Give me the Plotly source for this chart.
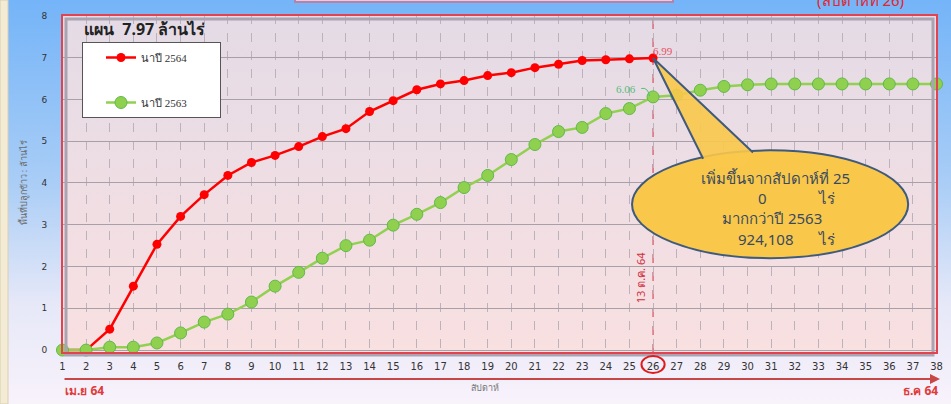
import base64
import plotly.graph_objs as go

# weekly cumulative planted area (million rai)
weeks = list(range(1, 39))
weeks_2564 = list(range(1, 27))
area_2564 = [0, 0, 0.50, 1.53, 2.53, 3.20, 3.72, 4.18, 4.49, 4.66, 4.87, 5.11, 5.30,
             5.71, 5.97, 6.23, 6.37, 6.45, 6.57, 6.64, 6.76, 6.84, 6.93, 6.95, 6.97, 6.99]
area_2563 = [0, 0, 0.07, 0.07, 0.17, 0.41, 0.67, 0.86, 1.15, 1.53, 1.86, 2.20, 2.50,
             2.63, 2.99, 3.25, 3.53, 3.89, 4.18, 4.56, 4.92, 5.23, 5.33, 5.66, 5.78, 6.06,
             6.10, 6.22, 6.31, 6.35, 6.37, 6.37, 6.37, 6.37, 6.37, 6.37, 6.37, 6.37]
names = ['นาปี 2564', 'นาปี 2563']
current_week = 26

W, H = 951, 404
L, R, T, B = 62, 14, 15, 51
pw, ph = W - L - R, H - T - B

THAI = 'Tahoma, Noto Sans, DejaVu Sans, sans-serif'
PAD = '\u00a0' * 10


def gradient(stops):
    st = ''.join('<stop offset="%s" stop-color="%s"/>' % s for s in stops)
    svg = ('<svg xmlns="http://www.w3.org/2000/svg" width="10" height="100" preserveAspectRatio="none">'
           '<defs><linearGradient id="g" x1="0" y1="0" x2="0" y2="1">' + st +
           '</linearGradient></defs><rect width="10" height="100" fill="url(#g)"/></svg>')
    return 'data:image/svg+xml;base64,' + base64.b64encode(svg.encode()).decode()


fig = go.Figure()
fig.add_trace(go.Scatter(x=weeks_2564, y=area_2564, name=names[0] + PAD, mode='lines+markers',
                         line=dict(color='#ff0000', width=2.5), legendgroup='a',
                         marker=dict(size=9, color='#ff0000'), cliponaxis=False))
fig.add_trace(go.Scatter(x=weeks, y=area_2563, name=names[1] + PAD, mode='lines+markers',
                         line=dict(color='#92d050', width=2.5), legendgroup='b',
                         marker=dict(size=12, color='#8fd14f', line=dict(color='#62b84a', width=1)),
                         cliponaxis=False))

# backgrounds
fig.add_layout_image(source=gradient([(0, '#74b4f8'), (0.45, '#a9cdf6'), (0.75, '#e6e8f8'), (1, '#f8f2fb')]),
                     xref='paper', yref='paper', x=-L / pw, y=1 + T / ph, sizex=W / pw, sizey=H / ph,
                     xanchor='left', yanchor='top', sizing='stretch', layer='below')
fig.add_layout_image(source=gradient([(0, '#e4dbe6'), (1, '#f9e0e1')]),
                     xref='paper', yref='paper', x=0, y=1, sizex=1, sizey=1,
                     xanchor='left', yanchor='top', sizing='stretch', layer='below')

shapes = [
    dict(type='rect', xref='paper', yref='paper', x0=-L / pw, x1=-L / pw + 8 / pw, y0=-B / ph, y1=1 + T / ph,
         fillcolor='#f3ebd3', line=dict(color='#d8cfb4', width=1), layer='below'),
    dict(type='rect', xref='paper', yref='paper', x0=233 / pw, x1=611 / pw, y0=1 + 13 / ph, y1=1 + 30 / ph,
         fillcolor='#ebcadf', line=dict(color='#b583a9', width=2), layer='below'),
    # inner shadow + red frame
    dict(type='rect', xref='paper', yref='paper', x0=4 / pw, x1=1 - 4 / pw, y0=-2 / ph, y1=1 - 4 / ph,
         line=dict(color='#aaa3b2', width=3)),
    dict(type='rect', xref='paper', yref='paper', x0=0, x1=1, y0=0, y1=1,
         line=dict(color='#e2434f', width=2)),
    dict(type='line', xref='x', yref='paper', x0=current_week, x1=current_week, y0=0, y1=1,
         line=dict(color='#cf3345', width=1, dash='dash'), layer='below'),
    # circle around current week tick label
    dict(type='circle', xref='x', yref='paper', x0=current_week - 0.49, x1=current_week + 0.49,
         y0=-0.009, y1=-0.059, line=dict(color='#e01b1b', width=2)),
    # leader for 6.06
    dict(type='path', xref='x', yref='y', path='M 25.5,6.26 Q 25.78,6.3 25.85,6.08',
         line=dict(color='#4fbf7a', width=1)),
    # callout
    dict(type='circle', xref='x', yref='y', x0=25.11, x1=36.8, y0=2.2, y1=4.78,
         fillcolor='#f9c84a', line=dict(color='#3f5a7c', width=2)),
    dict(type='path', xref='x', yref='y',
         path='M 28.12,4.58 L 26,6.99 L 30.23,4.73 L 29.9,4.40 L 28.45,4.35 Z',
         fillcolor='rgba(249,200,74,0.9)', line=dict(width=0)),
    dict(type='path', xref='x', yref='y', path='M 28.12,4.58 L 26,6.99 L 30.23,4.73',
         line=dict(color='#3f5a7c', width=2)),
]

ann = [
    dict(text='(สัปดาห์ที่ 26)', xref='paper', yref='paper', x=0.912, y=1 + 15 / ph, showarrow=False,
         font=dict(family=THAI, size=15, color='#e2262c'), xanchor='center', yanchor='middle'),
    dict(text='<b>แผน  7.97 ล้านไร่</b>', xref='paper', yref='paper', x=20 / pw, y=1 - 14 / ph,
         showarrow=False, xanchor='left', yanchor='middle', font=dict(family=THAI, size=16, color='#222222')),
    dict(text='พื้นที่ปลูกข้าว : ล้านไร่', xref='paper', yref='paper', x=-47 / pw, y=0.503, textangle=-90,
         showarrow=False, font=dict(family=THAI, size=9, color='#6a6a6a')),
    dict(text='', xref='paper', yref='paper', x=878 / pw, y=-26 / ph, ax=-877, ay=0, showarrow=True,
         arrowcolor='#c94646', arrowwidth=2, arrowhead=2, arrowsize=1),
    dict(text='<b>เม.ย 64</b>', xref='paper', yref='paper', x=1 / pw, y=-38 / ph, showarrow=False,
         xanchor='left', yanchor='middle', font=dict(family=THAI, size=12, color='#e03a3a')),
    dict(text='<b>ธ.ค 64</b>', xref='paper', yref='paper', x=878 / pw, y=-37 / ph, showarrow=False,
         xanchor='right', yanchor='middle', font=dict(family=THAI, size=12, color='#e03a3a')),
    dict(text='สัปดาห์', xref='paper', yref='paper', x=423 / pw, y=-43 / ph, showarrow=False,
         font=dict(family=THAI, size=9, color='#777777')),
    dict(text='13 ต.ค. 64', x=25.45, y=1.72, textangle=-90, showarrow=False,
         font=dict(family=THAI, size=11, color='#d03040')),
    dict(text='%.2f' % area_2564[-1], x=26.43, y=7.15, showarrow=False,
         font=dict(family='Liberation Serif', size=11, color='#e8505e')),
    dict(text='%.2f' % area_2563[current_week - 1], x=24.86, y=6.26, showarrow=False,
         font=dict(family='Liberation Serif', size=11, color='#4fbf7a')),
]
cfont = dict(family=THAI, size=15, color='#3a4a60')
for txt, x, y in [('เพิ่มขึ้นจากสัปดาห์ที่ 25', 31.17, 4.11), ('0', 30.65, 3.63), ('ไร่', 33.36, 3.63),
                  ('มากกว่าปี 2563', 31.04, 3.15), ('924,108', 30.78, 2.67), ('ไร่', 33.36, 2.67)]:
    ann.append(dict(text=txt, x=x, y=y, showarrow=False, font=cfont))

fig.update_layout(
    width=W, height=H,
    margin=dict(l=L, r=R, t=T, b=B),
    paper_bgcolor='rgba(0,0,0,0)',
    plot_bgcolor='rgba(0,0,0,0)',
    shapes=shapes,
    annotations=ann,
    showlegend=True,
    legend=dict(x=20 / pw, y=1 - 27 / ph, xanchor='left', yanchor='top', bgcolor='white',
                bordercolor='#555555', borderwidth=1, tracegroupgap=26, traceorder='grouped',
                itemwidth=30, indentation=18,
                font=dict(family='Liberation Serif', size=11, color='#333333')),
    xaxis=dict(range=[0.98, 38.02], tickmode='linear', tick0=1, dtick=1, showgrid=True, automargin=False,
               gridcolor='#bcb2bc', griddash='dash', gridwidth=1, zeroline=False, showline=False,
               ticks='outside', ticklen=4, tickcolor='rgba(0,0,0,0)',
               tickfont=dict(family='DejaVu Sans', size=10, color='#333333')),
    yaxis=dict(range=[-0.07, 8.02], tickmode='linear', tick0=0, dtick=1, showgrid=True, automargin=False,
               gridcolor='#a8a0a8', gridwidth=1, zeroline=False, showline=False,
               ticks='outside', ticklen=12, tickcolor='rgba(0,0,0,0)',
               tickfont=dict(family='DejaVu Sans', size=9, color='#333333')),
)

fig.write_html('out.html', config={'displayModeBar': False},
               post_script="document.body.style.margin='0';document.body.style.overflow='hidden';")
